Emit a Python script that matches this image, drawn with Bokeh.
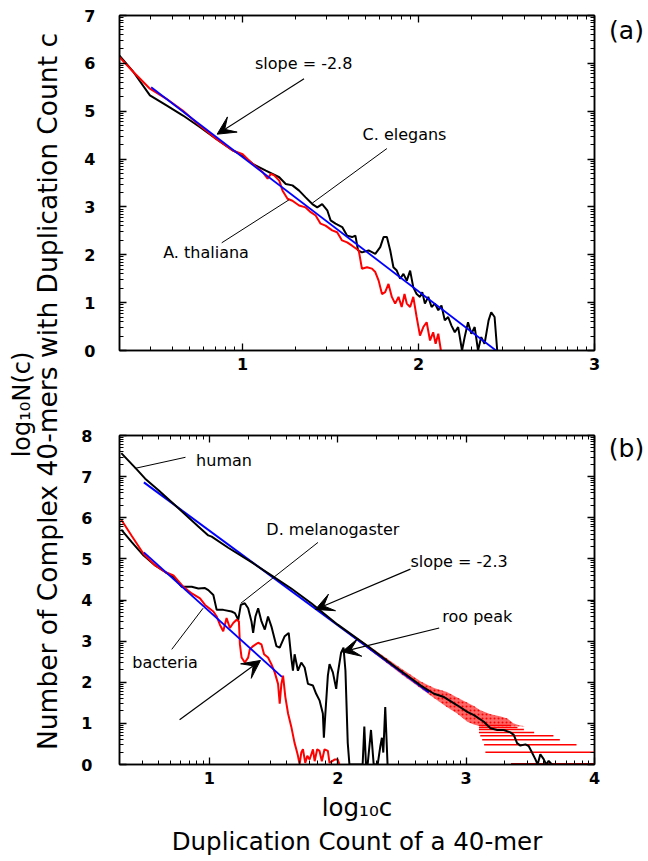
import math
from bokeh.plotting import figure
from bokeh.models import Range1d, LinearAxis, FixedTicker, Label, Arrow, VeeHead
from bokeh.layouts import row, column
from bokeh.embed import file_html
from bokeh.resources import INLINE

# ---------------- data: panel (a) ----------------
cel_x = [0.300, 0.379, 0.473, 0.567, 0.661, 0.756, 0.850, 0.944, 1.000, 1.057,
         1.132, 1.208, 1.245, 1.283, 1.321, 1.358, 1.396, 1.424, 1.452, 1.481,
         1.500, 1.528, 1.566, 1.594, 1.622, 1.641, 1.656, 1.678, 1.716, 1.754,
         1.782, 1.801, 1.820, 1.839, 1.857, 1.876, 1.895, 1.914, 1.933, 1.952,
         1.970, 1.989, 2.008, 2.021, 2.036, 2.055, 2.074, 2.093, 2.112, 2.130,
         2.149, 2.168, 2.187, 2.206, 2.225, 2.247, 2.262, 2.281, 2.300, 2.319,
         2.338, 2.356, 2.375, 2.398, 2.413, 2.432, 2.447]
cel_y = [6.16, 5.82, 5.33, 5.12, 4.91, 4.67, 4.42, 4.18, 4.07, 3.90,
         3.76, 3.62, 3.48, 3.45, 3.34, 3.20, 3.06, 2.99, 3.06, 2.93,
         2.72, 2.65, 2.58, 2.40, 2.37, 2.40, 2.09, 2.05, 2.09, 2.02,
         2.16, 2.37, 2.37, 2.09, 1.74, 1.67, 1.50, 1.60, 1.46, 1.67,
         1.32, 1.18, 1.12, 1.22, 0.98, 1.12, 0.91, 0.98, 0.84, 0.94,
         0.63, 0.70, 0.52, 0.38, 0.49, 0.00, 0.28, 0.59, 0.35, 0.49,
         0.00, 0.28, 0.14, 0.63, 0.80, 0.70, 0.00]

ath_x = [0.300, 0.379, 0.473, 0.567, 0.661, 0.756, 0.850, 0.944, 1.000, 1.057,
         1.113, 1.142, 1.161, 1.179, 1.208, 1.227, 1.255, 1.283, 1.321, 1.358,
         1.387, 1.415, 1.443, 1.471, 1.509, 1.537, 1.565, 1.594, 1.622, 1.660,
         1.678, 1.707, 1.735, 1.754, 1.773, 1.792, 1.810, 1.829, 1.848, 1.867,
         1.886, 1.904, 1.920, 1.933, 1.952, 1.970, 1.989, 2.008, 2.027, 2.046,
         2.065, 2.083, 2.097, 2.112, 2.127]
ath_y = [6.13, 5.82, 5.47, 5.26, 5.01, 4.70, 4.42, 4.18, 4.10, 3.90,
         3.73, 3.59, 3.69, 3.66, 3.55, 3.34, 3.17, 3.13, 3.03, 2.99,
         2.89, 2.82, 2.65, 2.61, 2.51, 2.47, 2.30, 2.26, 2.19, 2.09,
         1.71, 1.74, 1.71, 1.64, 1.46, 1.18, 1.22, 1.39, 1.12, 0.98,
         1.12, 0.91, 1.18, 0.98, 0.91, 1.12, 0.70, 0.31, 0.49, 0.59,
         0.21, 0.38, 0.14, 0.35, 0.00]

fit_a_x = [0.48, 2.44]
fit_a_y = [5.50, 0.00]

# ---------------- data: panel (b) ----------------
hum_x = [0.314, 0.436, 0.500, 0.604, 0.759, 0.914, 0.992, 1.018, 1.147, 1.328,
         1.483, 1.638, 1.794, 2.000, 2.233, 2.450, 2.647, 2.750, 2.828, 2.931,
         3.009, 3.061, 3.138, 3.190, 3.242, 3.293, 3.345, 3.371, 3.397, 3.423,
         3.462, 3.487, 3.513, 3.539, 3.557, 3.578, 3.604, 3.624, 3.643, 3.668]
hum_y = [7.57, 7.17, 6.95, 6.67, 6.23, 5.79, 5.57, 5.54, 5.27, 4.92,
         4.60, 4.28, 3.92, 3.40, 2.88, 2.37, 1.92, 1.72, 1.64, 1.44,
         1.28, 1.20, 1.04, 0.88, 0.84, 0.84, 0.78, 0.72, 0.52, 0.46,
         0.49, 0.45, 0.29, 0.13, 0.00, 0.25, 0.13, 0.00, 0.09, 0.00]

dmel_x = [0.314, 0.397, 0.488, 0.578, 0.656, 0.720, 0.785, 0.863, 0.914, 0.966,
          0.992, 1.031, 1.057, 1.108, 1.173, 1.199, 1.225, 1.245, 1.276, 1.302,
          1.328, 1.341, 1.359, 1.380, 1.406, 1.432, 1.457, 1.483, 1.522, 1.548,
          1.587, 1.618, 1.638, 1.651, 1.664, 1.677, 1.690, 1.716, 1.742, 1.768,
          1.807, 1.832, 1.858, 1.884, 1.892, 1.902, 1.923, 1.936, 1.962, 1.988,
          2.000, 2.026, 2.045, 2.060, 2.078, 2.091, 2.194, 2.207, 2.220, 2.233,
          2.259, 2.280, 2.311, 2.332, 2.344, 2.355, 2.370, 2.388]
dmel_y = [5.71, 5.40, 5.08, 4.84, 4.68, 4.56, 4.32, 4.32, 4.28, 4.29,
          4.24, 4.12, 3.76, 3.76, 3.72, 3.68, 3.52, 3.88, 3.92, 3.80,
          3.48, 3.20, 3.60, 3.80, 3.48, 3.28, 3.60, 3.36, 2.88, 2.84,
          3.12, 3.20, 2.60, 2.28, 2.68, 2.48, 2.28, 2.48, 2.36, 1.96,
          1.92, 1.72, 1.56, 1.24, 0.65, 1.16, 2.16, 2.44, 2.24, 1.84,
          2.20, 2.72, 2.84, 2.28, 0.52, 0.00, 0.00, 0.92, 0.00, 0.00,
          0.84, 0.00, 0.00, 0.45, 0.65, 0.29, 1.40, 0.00]

bac_x = [0.314, 0.397, 0.488, 0.578, 0.656, 0.720, 0.798, 0.863, 0.927, 0.966,
         1.031, 1.057, 1.082, 1.108, 1.134, 1.160, 1.186, 1.212, 1.230, 1.238,
         1.251, 1.276, 1.302, 1.315, 1.341, 1.380, 1.406, 1.426, 1.457, 1.483,
         1.509, 1.535, 1.548, 1.561, 1.574, 1.592, 1.613, 1.638, 1.664, 1.677,
         1.690, 1.703, 1.716, 1.729, 1.747, 1.763, 1.781, 1.807, 1.820, 1.840,
         1.858, 1.876, 1.897, 1.923, 1.936, 1.975, 2.000, 2.013]
bac_y = [5.95, 5.55, 5.12, 4.84, 4.68, 4.60, 4.32, 4.16, 4.04, 3.88,
         3.72, 3.60, 3.40, 3.24, 3.56, 3.32, 3.44, 3.52, 3.48, 2.92,
         2.60, 2.48, 2.60, 2.80, 2.88, 2.96, 2.92, 2.68, 2.60, 2.44,
         2.24, 1.96, 1.48, 1.96, 2.16, 1.64, 1.24, 0.92, 0.52, 0.37,
         0.21, 0.00, 0.29, 0.37, 0.04, 0.21, 0.12, 0.37, 0.08, 0.37,
         0.33, 0.08, 0.37, 0.33, 0.04, 0.12, 0.12, 0.00]

fit_h_x = [0.49, 2.71]
fit_h_y = [6.86, 1.75]
fit_bac_x = [0.49, 1.565]
fit_bac_y = [5.16, 2.13]

# red scatter of the human raw counts: envelope of the cloud
cloud_x = [2.05, 2.30, 2.50, 2.65, 2.75, 2.85, 2.93, 3.01, 3.06, 3.11,
           3.19, 3.27, 3.32, 3.37, 3.42, 3.46]
cloud_hi = [3.30, 2.76, 2.32, 2.01, 1.86, 1.76, 1.63, 1.50, 1.42, 1.32,
            1.22, 1.17, 1.12, 1.00, 0.95, 0.93]
cloud_lo = [3.25, 2.66, 2.18, 1.84, 1.62, 1.40, 1.24, 1.04, 0.97, 0.93,
            0.93, 0.93, 0.93, 0.93, 0.93, 0.93]
# quantised levels (log10 N for N = 2..9) and their extents
band_y = [0.30, 0.48, 0.60, 0.70, 0.78, 0.85, 0.90, 0.95]
band_x0 = [3.15, 3.14, 3.125, 3.11, 3.10, 3.10, 3.10, 3.10]
band_x1 = [4.00, 3.86, 3.73, 3.68, 3.53, 3.45, 3.40, 3.35]
band1_x = [3.35, 4.00]
band1_y = [0.00, 0.00]

xmaj_a = [1, 2, 3]
ymaj_a = [0, 1, 2, 3, 4, 5, 6, 7]
xmaj_b = [1, 2, 3, 4]
ymaj_b = [0, 1, 2, 3, 4, 5, 6, 7, 8]

RED = "#ff0000"
BLUE = "#0000ff"
FONT = "DejaVu Sans"
TOTAL_H = 859


def log_minor(lo, hi):
    out = []
    for n in range(int(math.floor(lo)), int(math.ceil(hi)) + 1):
        for k in range(2, 10):
            v = n + math.log10(k)
            if lo <= v <= hi:
                out.append(v)
    return out


def style_axis(ax):
    ax.axis_line_color = "black"
    ax.axis_line_width = 1.5
    ax.major_tick_in = 7
    ax.major_tick_out = 0
    ax.minor_tick_in = 4
    ax.minor_tick_out = 0
    ax.major_tick_line_width = 1.3
    ax.minor_tick_line_width = 1
    ax.major_tick_line_color = "black"
    ax.minor_tick_line_color = "black"


def dress(p, xt, yt, xr, yr, ystand):
    xtick = FixedTicker(ticks=xt, minor_ticks=log_minor(*xr))
    ytick = FixedTicker(ticks=yt, minor_ticks=log_minor(*yr))
    bottom = p.below[0]
    left = p.left[0]
    bottom.ticker = xtick
    left.ticker = ytick
    top = LinearAxis(ticker=xtick, major_label_overrides={t: "" for t in xt},
                     major_label_standoff=0)
    right = LinearAxis(ticker=ytick, major_label_overrides={t: "" for t in yt},
                       major_label_standoff=0)
    p.add_layout(top, "above")
    p.add_layout(right, "right")
    for ax in (bottom, left, top, right):
        style_axis(ax)
    for ax in (bottom, left):
        ax.major_label_text_font = FONT
        ax.major_label_text_font_style = "bold"
        ax.major_label_text_font_size = "16px"
        ax.major_label_text_color = "black"
    bottom.major_label_standoff = 7
    left.major_label_standoff = ystand
    p.grid.visible = False
    p.outline_line_color = "black"
    p.outline_line_width = 1.5


def label(p, x, y, text, size="16px"):
    p.add_layout(Label(x=x, y=y, text=text, text_align="center", text_baseline="middle",
                       text_font=FONT, text_font_size=size, text_color="black"))


def arrow(p, x0, y0, x1, y1):
    p.add_layout(Arrow(end=VeeHead(size=18, fill_color="black", line_color="black", line_width=1),
                       x_start=x0, y_start=y0, x_end=x1, y_end=y1,
                       line_color="black", line_width=1.2))


# ---------------- panel (a) ----------------
fa = figure(width=532, height=392, x_range=Range1d(0.3, 3), y_range=Range1d(0, 7),
            output_backend="svg", toolbar_location=None,
            min_border_left=48, min_border_right=6, min_border_top=15, min_border_bottom=42)
dress(fa, xmaj_a, ymaj_a, (0.3, 3), (0, 7), 24)
fa.line(cel_x, cel_y, line_color="black", line_width=2)
fa.line(ath_x, ath_y, line_color=RED, line_width=2)
fa.line(fit_a_x, fit_a_y, line_color=BLUE, line_width=1.8)
label(fa, 1.347, 5.99, "slope = -2.8")
arrow(fa, 1.349, 5.68, 0.855, 4.52)
label(fa, 1.92, 4.51, "C. elegans")
fa.segment(x0=[1.82], y0=[4.22], x1=[1.396], y1=[3.08], line_color="black", line_width=1)
label(fa, 0.792, 2.04, "A. thaliana")
fa.segment(x0=[0.881], y0=[2.25], x1=[1.264], y1=[3.15], line_color="black", line_width=1)

# ---------------- panel (b) ----------------
fb = figure(width=532, height=467, x_range=Range1d(0.3, 4), y_range=Range1d(0, 8),
            output_backend="svg", toolbar_location=None,
            min_border_left=51, min_border_right=6, min_border_top=43, min_border_bottom=90)
dress(fb, xmaj_b, ymaj_b, (0.3, 4), (0, 8), 27)
xb = fb.below[0]
xb.axis_label = "log\u2081\u2080c\nDuplication Count of a 40-mer"
xb.axis_label_text_font = FONT
xb.axis_label_text_font_style = "normal"
xb.axis_label_text_font_size = "24.5px"
xb.axis_label_text_color = "black"
xb.axis_label_standoff = 6

fb.varea(x=cloud_x, y1=cloud_lo, y2=cloud_hi, fill_color=RED, fill_alpha=0.6,
         hatch_pattern=".", hatch_color=RED, hatch_scale=4, hatch_weight=2)
fb.segment(x0=band_x0, y0=band_y, x1=band_x1, y1=band_y, line_color=RED, line_width=1.5)
fb.line(band1_x, band1_y, line_color="#990000", line_width=3)
fb.line(fit_h_x, fit_h_y, line_color=BLUE, line_width=2)
fb.line(hum_x, hum_y, line_color="black", line_width=2)
fb.line(dmel_x, dmel_y, line_color="black", line_width=2)
fb.line(bac_x, bac_y, line_color=RED, line_width=2)
fb.line(fit_bac_x, fit_bac_y, line_color=BLUE, line_width=1.8)

label(fb, 1.114, 7.40, "human")
fb.segment(x0=[0.814], y0=[7.47], x1=[0.42], y1=[7.20], line_color="black", line_width=1)
label(fb, 1.962, 5.72, "D. melanogaster")
fb.segment(x0=[1.846], y0=[5.40], x1=[1.245], y1=[3.92], line_color="black", line_width=1)
label(fb, 2.945, 4.94, "slope = -2.3")
arrow(fb, 2.566, 4.75, 1.826, 3.77)
label(fb, 3.087, 3.59, "roo peak")
arrow(fb, 2.790, 3.32, 2.034, 2.74)
label(fb, 0.655, 2.48, "bacteria")
fb.segment(x0=[0.707], y0=[2.80], x1=[0.951], y1=[3.80], line_color="black", line_width=1)
arrow(fb, 0.768, 1.09, 1.398, 2.53)


def text_strip(width):
    f = figure(width=width, height=TOTAL_H, x_range=Range1d(0, width), y_range=Range1d(TOTAL_H, 0),
               output_backend="svg", toolbar_location=None,
               x_axis_location=None, y_axis_location=None,
               min_border_left=0, min_border_right=0, min_border_top=0, min_border_bottom=0)
    f.grid.visible = False
    f.outline_line_color = None
    return f


# ---------------- shared y label (left strip, page pixels) ----------------
lab = text_strip(68)
lab.add_layout(Label(x=21, y=404, text="log\u2081\u2080N(c)",
                     angle=math.pi / 2, text_align="center", text_baseline="middle",
                     text_font=FONT, text_font_size="24px", text_color="black"))
lab.add_layout(Label(x=47, y=391,
                     text="Number of Complex 40-mers with Duplication Count c",
                     angle=math.pi / 2, text_align="center", text_baseline="middle",
                     text_font=FONT, text_font_size="26.5px", text_color="black"))

# ---------------- panel letters (right strip) ----------------
labr = text_strip(46)
labr.add_layout(Label(x=26, y=30, text="(a)",
                      text_align="center", text_baseline="middle",
                      text_font=FONT, text_font_size="25px", text_color="black"))
labr.add_layout(Label(x=26, y=448, text="(b)",
                      text_align="center", text_baseline="middle",
                      text_font=FONT, text_font_size="25px", text_color="black"))

layout = row(lab, column(fa, fb), labr)
open("out.html", "w").write(file_html(layout, INLINE))
